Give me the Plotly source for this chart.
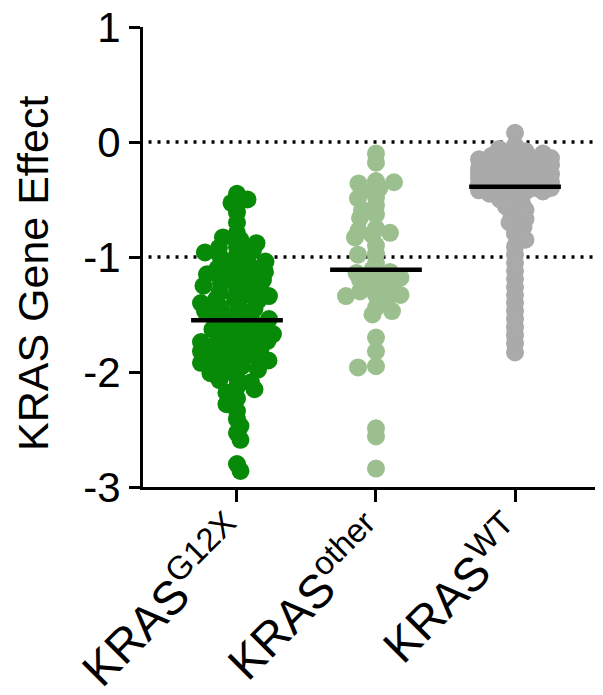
import numpy as np
import plotly.graph_objects as go

# ---------------- data ----------------
categories = ["KRAS<sup>G12X</sup>", "KRAS<sup>other</sup>", "KRAS<sup>WT</sup>"]
colors = ["#078a07", "#9cbf8f", "#aaaaaa"]

g12x_values = [
    -0.45, -0.50, -0.53, -0.61, -0.70,
    -0.79, -0.83, -0.85, -0.88,
    -0.91, -0.92, -0.94, -0.96, -0.98,
    -1.01, -1.03, -1.04, -1.06, -1.09, -1.10,
    -1.12, -1.13, -1.15, -1.16, -1.18, -1.20,
    -1.22, -1.23, -1.25, -1.26, -1.29,
    -1.31, -1.33, -1.34, -1.36, -1.37, -1.38,
    -1.40, -1.42, -1.44, -1.45, -1.47, -1.49,
    -1.51, -1.53, -1.54,
    -1.55,
    -1.57, -1.59, -1.61, -1.62, -1.63, -1.64, -1.65, -1.67,
    -1.69, -1.71, -1.72, -1.73, -1.74, -1.75, -1.77, -1.78,
    -1.80, -1.81, -1.82, -1.84, -1.86, -1.88,
    -1.89, -1.90, -1.92, -1.93, -1.95, -1.98, -1.99, -2.01,
    -2.05, -2.07, -2.09, -2.13, -2.15, -2.18, -2.23, -2.28, -2.34,
    -2.41, -2.47, -2.53, -2.59, -2.80, -2.86,
]

other_values = [
    -0.10, -0.18, -0.34, -0.35, -0.36, -0.40, -0.42, -0.48, -0.49, -0.55,
    -0.59, -0.63, -0.66, -0.75, -0.77, -0.79, -0.81, -0.83, -0.90, -0.97,
    -0.98, -1.05, -1.11, -1.13, -1.14, -1.17, -1.18, -1.20, -1.22, -1.25,
    -1.28, -1.30, -1.33, -1.33, -1.34, -1.38, -1.44, -1.47, -1.50, -1.70,
    -1.82, -1.95, -1.96, -2.49, -2.56, -2.84,
]

wt_values = [
    0.08,
    -0.03, -0.06, -0.08, -0.10, -0.11, -0.12, -0.13,
    -0.14, -0.15, -0.16, -0.17, -0.18, -0.19, -0.20, -0.20, -0.21, -0.22, -0.22,
    -0.23, -0.24, -0.24, -0.25, -0.25, -0.26, -0.26, -0.27, -0.27, -0.28,
    -0.28, -0.29, -0.29, -0.30, -0.30, -0.31, -0.31, -0.32, -0.32, -0.33,
    -0.33, -0.34, -0.34, -0.35, -0.35, -0.36, -0.36, -0.37, -0.37, -0.38,
    -0.38, -0.39, -0.39, -0.40, -0.40, -0.41, -0.41, -0.42, -0.42, -0.43,
    -0.44, -0.45,
    -0.47, -0.50, -0.53, -0.56, -0.59,
    -0.63, -0.67, -0.70, -0.74,
    -0.80, -0.85, -0.91, -0.98, -1.05, -1.12, -1.19, -1.26, -1.33, -1.40,
    -1.47, -1.54, -1.61, -1.68, -1.75, -1.83,
]

medians = [-1.55, -1.11, -0.39]
groups = [g12x_values, other_values, wt_values]

# ---------------- geometry ----------------
# the page body adds an 8 px offset, so the figure is 8 px smaller than the window
W, H = 595, 687
M_L, M_R, M_T, M_B = 135, 0, 19, 208
X_RANGE = [-0.676, 2.633]
Y_RANGE = [-3, 1]
px_per_x = (W - M_L - M_R) / (X_RANGE[1] - X_RANGE[0])
px_per_y = (H - M_T - M_B) / (Y_RANGE[1] - Y_RANGE[0])

MARK = 18        # marker diameter, px
CX = 18          # side-by-side separation of equal values, px
CY = 7           # vertical gap allowing points to stack in one column, px
MAX_OFF = 36     # max horizontal offset of a point centre, px


def swarm_offsets(vals):
    """Greedy beeswarm with an elliptical exclusion zone and capped width."""
    v = np.asarray(vals, dtype=float) * px_per_y
    order = np.argsort(-v, kind="stable")
    cand = np.arange(-MAX_OFF, MAX_OFF + 0.01, 0.5)
    py_l, px_l = [], []
    offs = np.zeros(len(v))
    for k, i in enumerate(order):
        y = v[i]
        sgn = 1 if k % 2 == 0 else -1
        keyorder = np.lexsort((sgn * cand, np.abs(cand)))
        cs = cand[keyorder]
        chosen = 0.0
        if py_l:
            pys = np.array(py_l)
            pxs = np.array(px_l)
            m = np.abs(pys - y) < CY
            if np.any(m):
                ny = (pys[m] - y) / CY
                nx = pxs[m]
                d2 = ((cs[:, None] - nx[None, :]) / CX) ** 2 + ny[None, :] ** 2
                mind = d2.min(axis=1)
                ok = np.where(mind >= 1.0)[0]
                chosen = cs[ok[0]] if len(ok) else cs[int(np.argmax(mind))]
        offs[i] = chosen
        py_l.append(y)
        px_l.append(chosen)
    return offs / px_per_x


fig = go.Figure()

for gi, vals in enumerate(groups):
    xo = swarm_offsets(vals)
    fig.add_trace(go.Scatter(
        x=gi + xo, y=vals, mode="markers",
        marker=dict(size=MARK, color=colors[gi], line=dict(width=0), opacity=1),
        hoverinfo="y", showlegend=False,
    ))

# dotted reference lines
for yref in [0, -1]:
    fig.add_shape(type="line", xref="paper", yref="y", x0=0.012, x1=1, y0=yref, y1=yref,
                  line=dict(color="black", width=3.5, dash="3px,6px"), layer="below")

# median bars
for gi, m in enumerate(medians):
    fig.add_shape(type="line", xref="x", yref="y", x0=gi - 0.33, x1=gi + 0.33, y0=m, y1=m,
                  line=dict(color="black", width=4.5), layer="above")

font_family = "Liberation Sans, Arial, sans-serif"

annotations = [dict(
    text="KRAS Gene Effect", textangle=-90, showarrow=False,
    xref="paper", yref="paper", x=0, y=0.5, xanchor="center", yanchor="middle",
    xshift=-110, yshift=-17, font=dict(size=43),
)]
for gi, lab in enumerate(categories):
    annotations.append(dict(
        text=lab, textangle=-45, showarrow=False,
        xref="x", yref="paper", x=gi, y=0, xanchor="right", yanchor="top",
        xshift=25, yshift=-14, font=dict(size=47),
    ))

fig.update_layout(
    width=W, height=H,
    margin=dict(l=M_L, r=M_R, t=M_T, b=M_B, pad=0),
    plot_bgcolor="white", paper_bgcolor="white",
    font=dict(family=font_family, size=40, color="black"),
    xaxis=dict(
        range=X_RANGE, tickvals=[0, 1, 2], ticktext=["", "", ""],
        showline=True, linecolor="black", linewidth=3,
        ticks="outside", ticklen=12, tickwidth=3, tickcolor="black",
        showgrid=False, zeroline=False, automargin=False,
    ),
    yaxis=dict(
        range=Y_RANGE, tickvals=[-3, -2, -1, 0, 1], ticktext=["-3", "-2", "-1", "0", "1"],
        showline=True, linecolor="black", linewidth=3,
        ticks="outside", ticklen=11, tickwidth=3, tickcolor="black",
        showgrid=False, zeroline=False, tickfont=dict(size=42),
        automargin=False, ticklabeloverflow="allow",
    ),
    annotations=annotations,
)

fig.write_html("out.html")
